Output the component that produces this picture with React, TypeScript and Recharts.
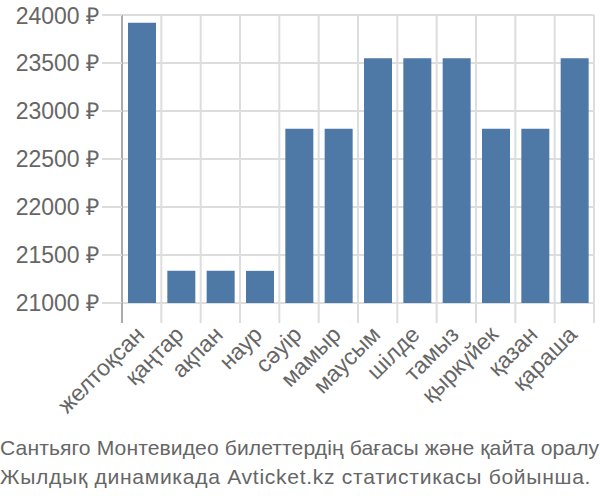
import { Bar, BarChart, CartesianGrid, XAxis, YAxis } from "recharts";

const months = [
  "желтоқсан",
  "қаңтар",
  "ақпан",
  "наур",
  "сәуір",
  "мамыр",
  "маусым",
  "шілде",
  "тамыз",
  "қыркүйек",
  "қазан",
  "қараша",
];

const prices = [
  23920, 21335, 21335, 21335, 22815, 22815, 23550, 23550, 23550, 22815, 22815,
  23550,
];

const yTicks = [21000, 21500, 22000, 22500, 23000, 23500, 24000];

const captionLines = [
  "Сантьяго Монтевидео билеттердің бағасы және қайта оралу",
  "Жылдық динамикада Avticket.kz статистикасы бойынша.",
];

const data = months.map((m, i) => ({ month: m, price: prices[i] }));

const FONT = "'Liberation Sans', Arial, sans-serif";
const W = 600;
const H = 433;
const M = { top: 15, right: 6, left: 0, bottom: 0 };
const Y_W = 122;
const PLOT_W = W - M.left - M.right - Y_W;
const SLOT = PLOT_W / months.length;

function MonthTick(props: any) {
  const { x, y, payload, index } = props;
  const left = x - SLOT / 2;
  const last = index === months.length - 1;
  return (
    <g>
      <line x1={left} x2={left} y1={y} y2={y + 20} stroke={index === 0 ? "#aaa" : "#ddd"} strokeWidth={2} />
      {last && (
        <line x1={x + SLOT / 2} x2={x + SLOT / 2} y1={y} y2={y + 20} stroke="#ddd" strokeWidth={2} />
      )}
      <text
        transform={`translate(${x + 4},${y + 33}) rotate(-45)`}
        textAnchor="end"
        fill="#666"
        fontSize={23}
        fontFamily={FONT}
      >
        {payload.value}
      </text>
    </g>
  );
}

export default function App() {
  return (
    <div style={{ width: W }}>
      <style>{`body{margin:0}`}</style>
      <BarChart width={W} height={H} data={data} margin={M} barSize={28}>
        <CartesianGrid
          stroke="#ddd"
          strokeWidth={2}
          verticalCoordinatesGenerator={({ offset }: any) =>
            months.map((_, i) => offset.left + (offset.width / months.length) * i).concat(offset.left + offset.width)
          }
        />
        <XAxis
          dataKey="month"
          interval={0}
          axisLine={false}
          tickLine={false}
          tickSize={0}
          tickMargin={0}
          height={H - M.top - 288}
          tick={<MonthTick />}
        />
        <YAxis
          width={Y_W}
          domain={[21000, 24000]}
          ticks={yTicks}
          allowDataOverflow
          axisLine={{ stroke: "#aaa", strokeWidth: 2 }}
          tickLine={{ stroke: "#ddd", strokeWidth: 2 }}
          tickSize={20}
          tickMargin={3}
          tickFormatter={(v: number) => `${v} ₽`}
          tick={{ fill: "#666", fontSize: 23, fontFamily: FONT }}
        />
        <Bar dataKey="price" fill="#4e79a7" isAnimationActive={false} />
      </BarChart>
      <div
        style={{
          fontFamily: FONT,
          fontSize: 21.1,
          lineHeight: "29px",
          color: "#666",
          whiteSpace: "nowrap",
        }}
      >
        {captionLines.map((l, i) => (
          <div key={l} style={{ letterSpacing: i === 1 ? "0.7px" : "0.1px" }}>
            {l}
          </div>
        ))}
      </div>
    </div>
  );
}
